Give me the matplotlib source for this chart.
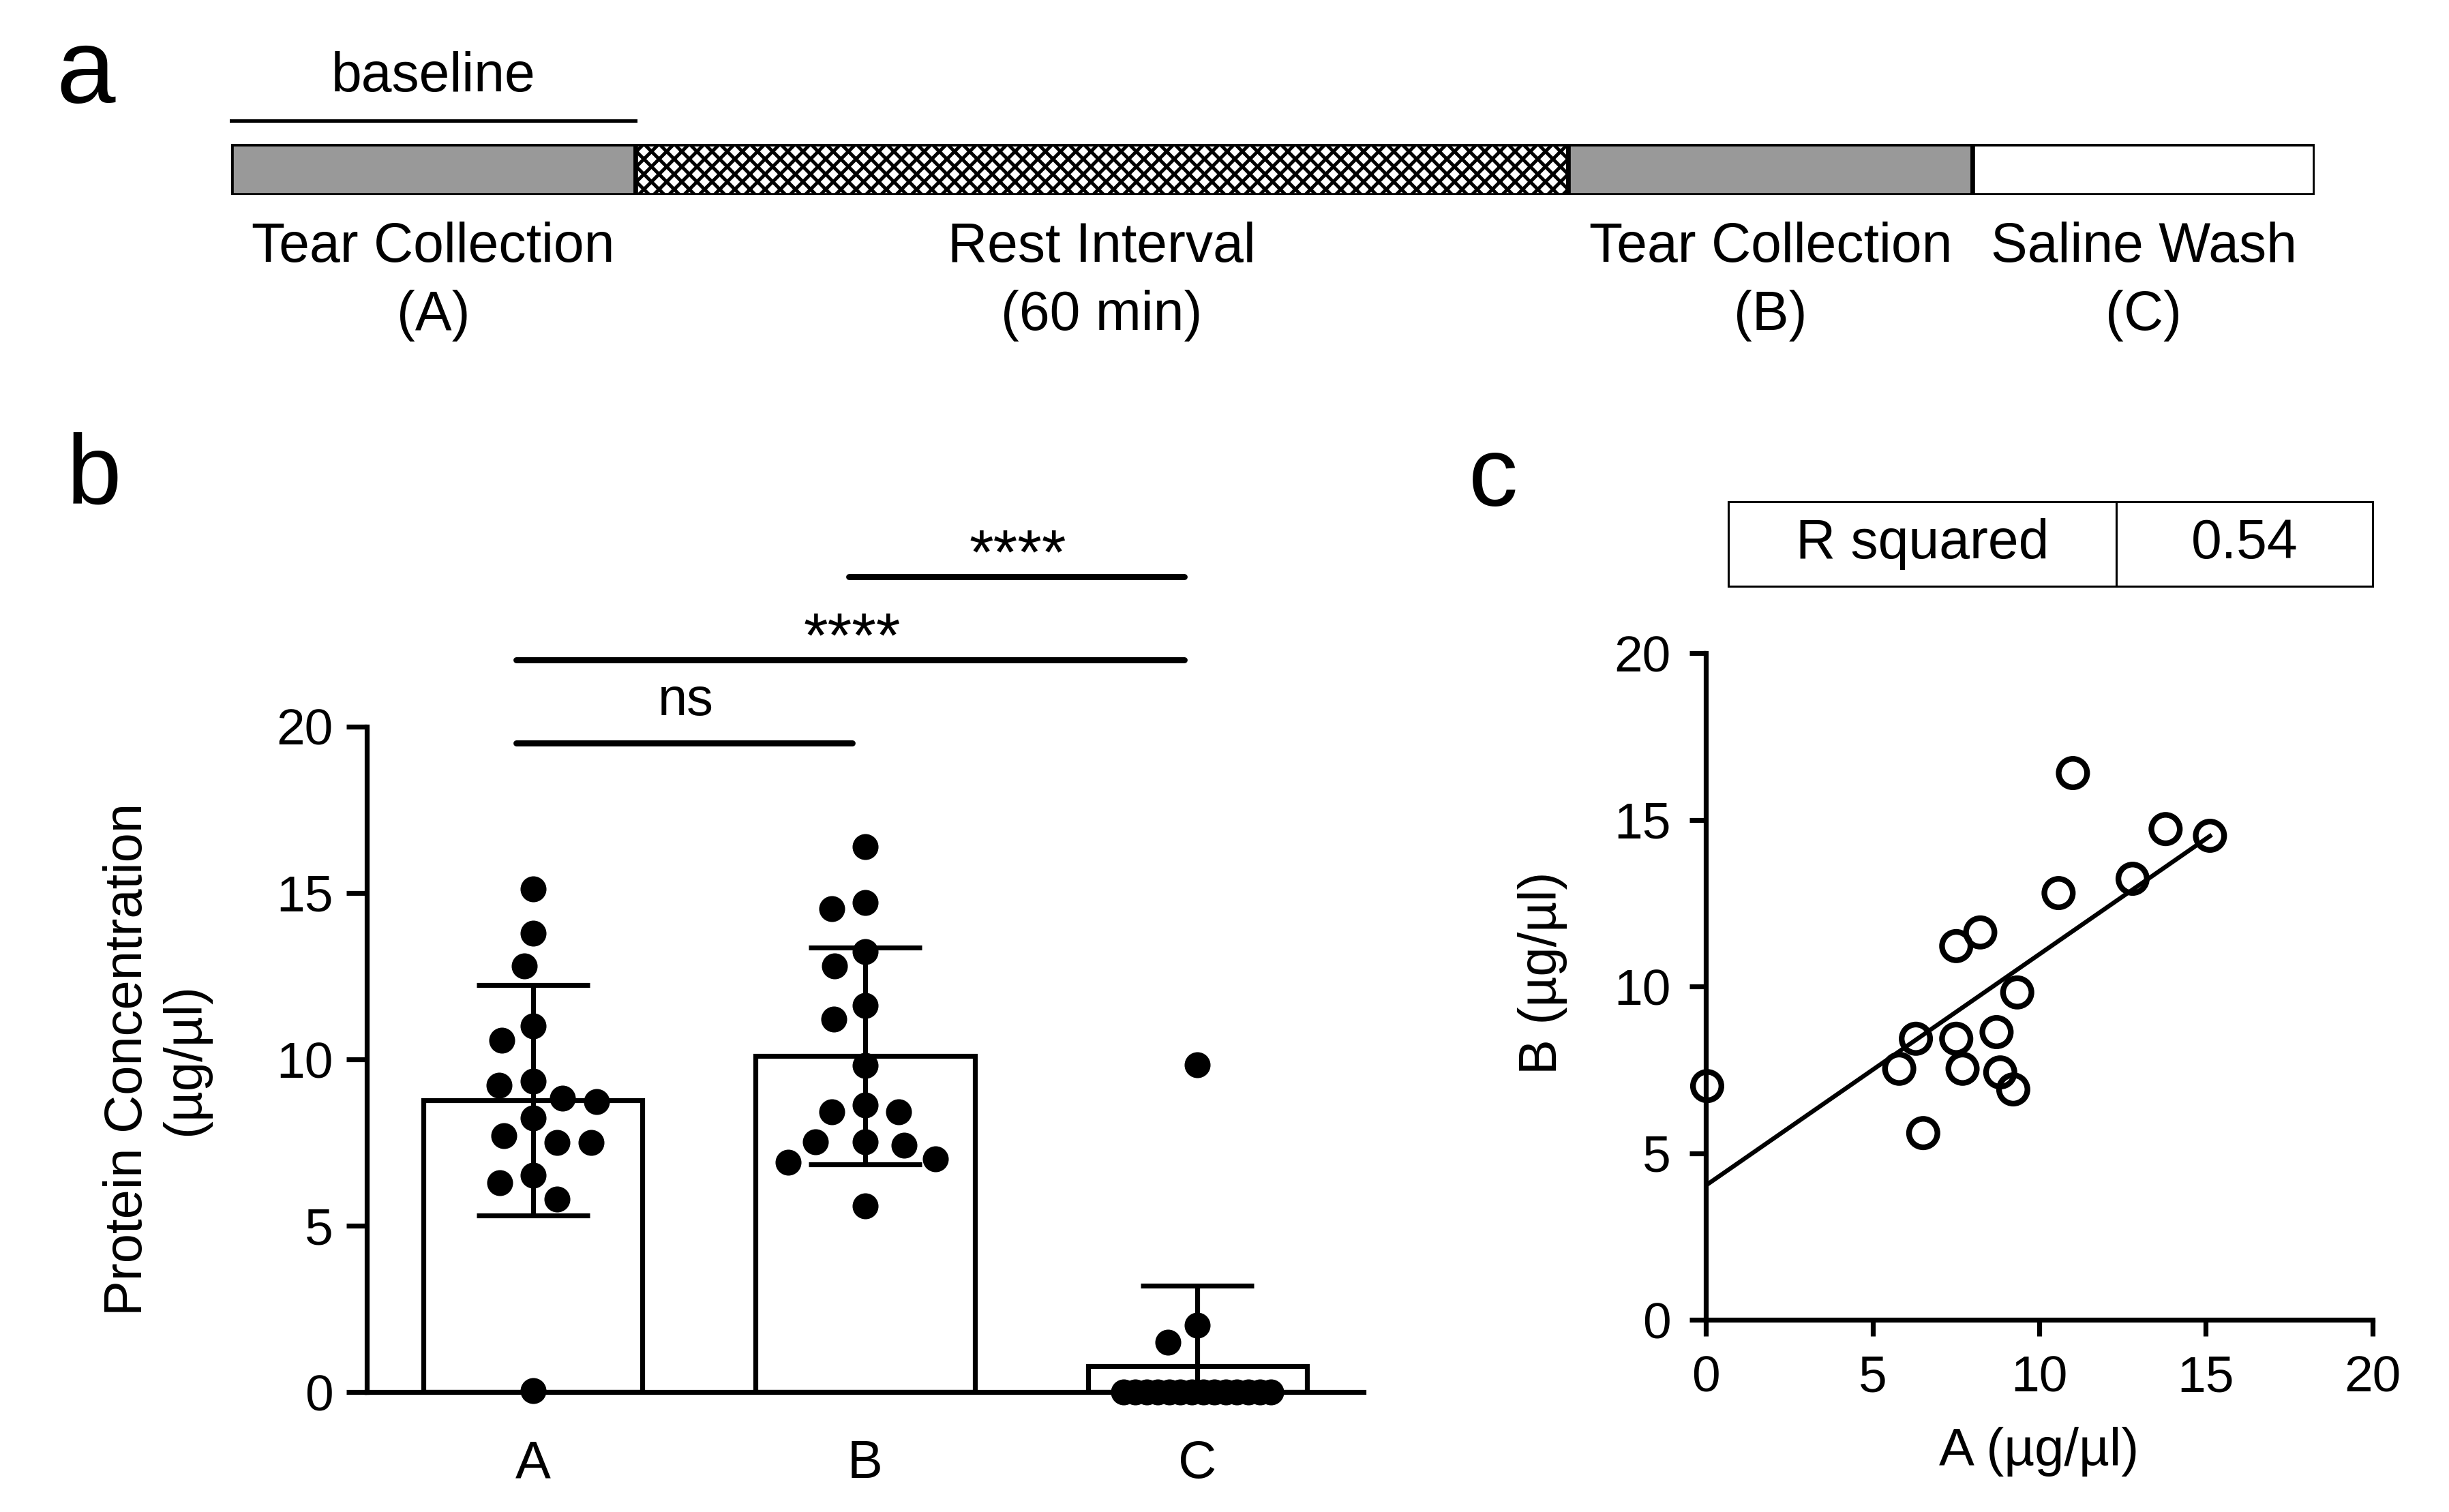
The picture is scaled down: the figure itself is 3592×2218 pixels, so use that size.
import numpy as np
import matplotlib
matplotlib.use("agg")
import matplotlib.pyplot as plt

plt.rcParams['font.family'] = ['Liberation Sans', 'DejaVu Sans']
plt.rcParams['hatch.linewidth'] = 1.8

# panel a: protocol timeline
stage_names = ["Tear Collection", "Rest Interval", "Tear Collection", "Saline Wash"]
stage_tags = ["(A)", "(60 min)", "(B)", "(C)"]
stage_len = [26, 60, 26, 22]
stage_fill = ['#999999', 'white', '#999999', 'white']
stage_hatch = [None, 'xxx', None, None]

# panels b and c: protein concentration (ug/ul), A and B paired per subject
conc_A = [0.04, 15.12, 13.79, 11.01, 12.80, 10.58, 8.23, 7.51, 9.34,
          6.30, 7.51, 8.72, 5.80, 7.70, 8.83, 9.22, 6.52]
conc_B = [7.01, 14.52, 14.72, 16.40, 13.23, 12.80, 11.62, 11.21, 9.82,
          8.43, 8.43, 8.63, 7.53, 7.53, 7.42, 6.91, 5.60]
conc_C = [9.84, 2.0, 1.5, 0, 0, 0, 0, 0, 0, 0, 0, 0, 0, 0, 0, 0, 0]
groups = ['A', 'B', 'C']

sig_pairs = [(0, 1), (0, 2), (1, 2)]
sig_labels = ['ns', '****', '****']
sig_y = [19.5, 22.0, 24.5]
sig_text_gap = [0.85, 0.1, 0.1]
sig_size = [28, 33, 33]

r_squared = "0.54"

W, H = 3592, 2218
fig = plt.figure(figsize=(W / 200, H / 200), dpi=200)


def fig_rect(left, top, right, bottom):
    return [left / W, 1 - bottom / H, (right - left) / W, (bottom - top) / H]


# ---------------- panel a ----------------
ax_a = fig.add_axes(fig_rect(339, 211, 3395, 286))
starts = np.concatenate([[0], np.cumsum(stage_len)[:-1]])
for i in range(len(stage_len)):
    ax_a.barh(0.5, stage_len[i], left=starts[i], height=1.0, color=stage_fill[i],
              edgecolor='black', linewidth=2.4, hatch=stage_hatch[i])
    mid = starts[i] + stage_len[i] / 2
    ax_a.text(mid, (286 - 384) / 75, stage_names[i], ha='center', va='baseline', fontsize=29)
    ax_a.text(mid, (286 - 484) / 75, stage_tags[i], ha='center', va='baseline', fontsize=29)
ax_a.plot([0, stage_len[0]], [1.45, 1.45], color='black', lw=1.8, clip_on=False)
ax_a.text(stage_len[0] / 2, 2.03, "baseline", ha='center', va='baseline', fontsize=29)
ax_a.set_xlim(0, sum(stage_len))
ax_a.set_ylim(0, 1)
ax_a.axis('off')

# ---------------- panel b ----------------
ax_b = fig.add_axes(fig_rect(538, 1066, 2000, 2042))
ax_b.set_xlim(-0.5, 2.5)
ax_b.set_ylim(0, 20)


def swarm_x(ax, xc, vals, diam, row_half):
    # spread points sideways so the markers do not pile up
    vals = np.asarray(vals, float)
    y = ax.transData.transform(np.column_stack([np.zeros_like(vals), vals]))[:, 1]
    ux = ax.transData.transform([[1, 0]])[0, 0] - ax.transData.transform([[0, 0]])[0, 0]
    xs = np.zeros(len(vals))
    done = np.zeros(len(vals), bool)
    # long runs of equal values get squeezed into one row
    for v in np.unique(vals):
        idx = np.where(vals == v)[0]
        if len(idx) > 3:
            xs[idx] = np.linspace(-row_half, row_half, len(idx))
            done[idx] = True
    placed = [(xs[i], y[i]) for i in np.where(done)[0]]
    for i in np.argsort(-vals):
        if done[i]:
            continue
        cands = [0.0]
        for px, py in placed:
            d = abs(y[i] - py)
            if d < diam:
                h = np.sqrt(diam ** 2 - d ** 2)
                cands += [px - h, px + h]
        cands.sort(key=abs)
        c = cands[0]
        for c in cands:
            if all((c - px) ** 2 + (y[i] - py) ** 2 >= diam ** 2 - 0.01 for px, py in placed):
                break
        xs[i] = c
        placed.append((c, y[i]))
    return xc + xs / ux


data_b = [conc_A, conc_B, conc_C]
means = [np.mean(v) for v in data_b]
sds = [np.std(v, ddof=1) for v in data_b]
xpos = np.arange(len(groups))

ax_b.bar(xpos, means, width=0.66, facecolor='white', edgecolor='black', linewidth=2.6, zorder=1)
ax_b.errorbar(xpos, means, yerr=sds, fmt='none', ecolor='black', elinewidth=2.6,
              capsize=30, capthick=2.6, zorder=2)
for i, vals in enumerate(data_b):
    xs = swarm_x(ax_b, xpos[i], vals, 50, 108)
    ax_b.scatter(xs, vals, s=13.7 ** 2, color='black', linewidths=0, zorder=3, clip_on=False)

for (i, j), lab, yy, gap, fs in zip(sig_pairs, sig_labels, sig_y, sig_text_gap, sig_size):
    ax_b.plot([i - 0.05, j - 0.04], [yy, yy], color='black', lw=3.2,
              solid_capstyle='round', clip_on=False)
    ax_b.text((i + j) / 2 - 0.04, yy + gap, lab, ha='center', va='baseline', fontsize=fs)

ax_b.spines['top'].set_visible(False)
ax_b.spines['right'].set_visible(False)
ax_b.spines['left'].set_linewidth(2.6)
ax_b.spines['bottom'].set_linewidth(2.6)
ax_b.set_yticks([0, 5, 10, 15, 20])
ax_b.set_xticks(xpos)
ax_b.set_xticklabels(groups)
ax_b.tick_params(axis='y', length=10.8, width=2.6, pad=7, labelsize=27)
ax_b.tick_params(axis='x', length=0, pad=25, labelsize=28)
ax_b.text(-0.211, 0.5, "Protein Concentration\n(µg/µl)", rotation=90, ha='center',
          va='center', multialignment='center', fontsize=28, transform=ax_b.transAxes)

# ---------------- panel c ----------------
ax_c = fig.add_axes(fig_rect(2502, 958, 3480, 1936))
ax_c.set_xlim(0, 20)
ax_c.set_ylim(0, 20)
ax_c.scatter(conc_A, conc_B, s=15.0 ** 2, facecolors='none', edgecolors='black',
             linewidths=3.0, zorder=3, clip_on=False)
slope, icpt = np.polyfit(conc_A, conc_B, 1)
xl = np.array([0, max(conc_A)])
ax_c.plot(xl, slope * xl + icpt, color='black', lw=2.3, zorder=2)

ax_c.spines['top'].set_visible(False)
ax_c.spines['right'].set_visible(False)
ax_c.spines['left'].set_linewidth(2.6)
ax_c.spines['bottom'].set_linewidth(2.6)
ax_c.set_xticks([0, 5, 10, 15, 20])
ax_c.set_yticks([0, 5, 10, 15, 20])
ax_c.tick_params(length=8.6, width=2.6, pad=10, labelsize=27)
ax_c.text(-0.245, 0.52, "B (µg/µl)", rotation=90, ha='center', va='center',
          fontsize=28, transform=ax_c.transAxes)
ax_c.text(0.5, -0.198, "A (µg/µl)", ha='center', va='center',
          fontsize=28, transform=ax_c.transAxes)

tbl = ax_c.table(cellText=[["R squared", r_squared]], cellLoc='center',
                 colWidths=[0.602, 0.398], bbox=[0.034, 1.100, 0.966, 0.127])
tbl.auto_set_font_size(False)
tbl.set_fontsize(29)
for cell in tbl.get_celld().values():
    cell.set_linewidth(1.1)

# panel letters
fig.text(126 / W, 1 - 150 / H, "a", ha='center', va='baseline', fontsize=56)
fig.text(138 / W, 1 - 739 / H, "b", ha='center', va='baseline', fontsize=52)
fig.text(2190 / W, 1 - 742 / H, "c", ha='center', va='baseline', fontsize=52)

fig.savefig("out.png", dpi=200)
